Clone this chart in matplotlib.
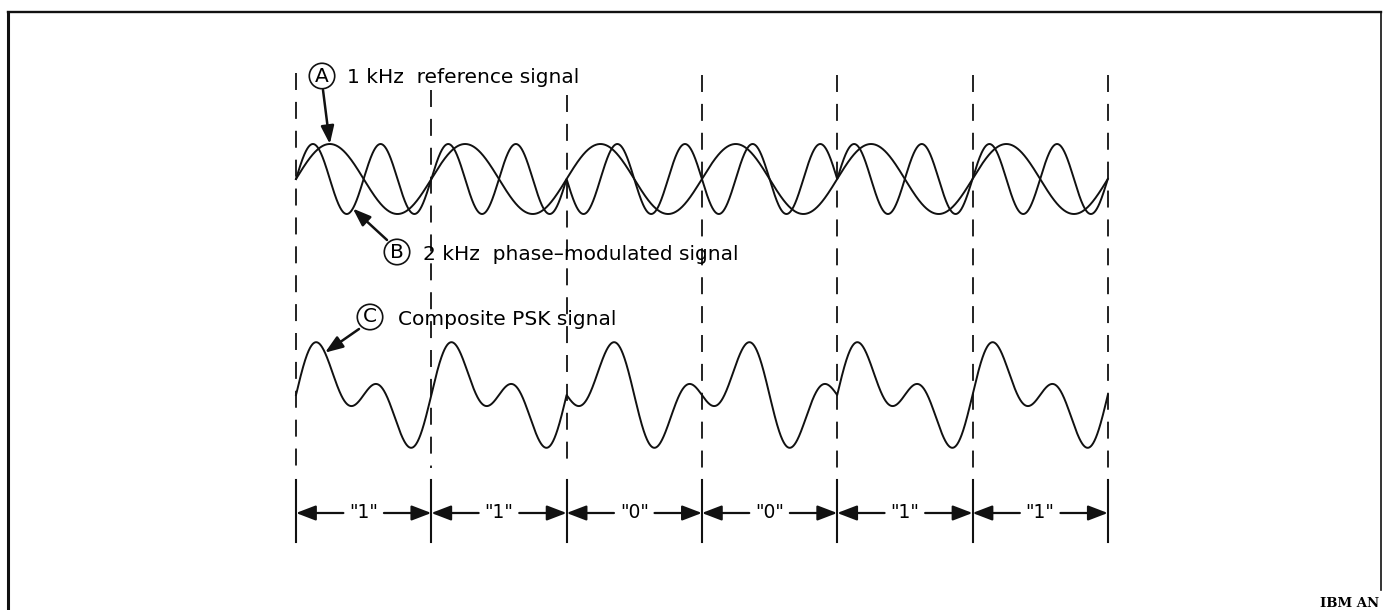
import numpy as np
import matplotlib.pyplot as plt

# data: bit sequence carried by the 2 kHz phase-modulated signal
bits = [1, 1, 0, 0, 1, 1]
bit_labels = ['"1"', '"1"', '"0"', '"0"', '"1"', '"1"']
ref_khz = 1.0
mod_khz = 2.0
label_a = '1 kHz  reference signal'
label_b = '2 kHz  phase\u2013modulated signal'
label_c = 'Composite PSK signal'
dash_tops = [73, 90, 95, 75, 75, 75, 75]

# layout (pixels of the 1383x610 picture)
X0 = 296.0          # left edge of first bit
PX_BIT = 135.3      # one bit = 1 ms
TOP_MID, TOP_AMP = 179, 35
BOT_MID, BOT_AMP = 395, 30

def px2t(x):
    return (x - X0) / PX_BIT

plt.rcParams['font.family'] = ['DejaVu Sans']

fig = plt.figure(figsize=(13.83, 6.10), dpi=100)
ax = fig.add_axes([0, 0, 1, 1])
ax.set_xlim(px2t(0), px2t(1383))
ax.set_ylim(610, 0)
ax.axis('off')

# waveforms
t = np.linspace(0, len(bits), 4000)
k = np.clip(np.floor(t).astype(int), 0, len(bits) - 1)
sign = np.where(np.array(bits)[k] == 1, 1.0, -1.0)

def ref(tt):
    return np.sin(2 * np.pi * ref_khz * tt)

def mod(tt, s):
    return s * np.sin(2 * np.pi * mod_khz * tt)

a = ref(t)
b = mod(t, sign)
c = a + b

lw = 1.4
ax.plot(t, TOP_MID - TOP_AMP * a, color='#111111', lw=lw)
ax.plot(t, TOP_MID - TOP_AMP * b, color='#111111', lw=lw)
ax.plot(t, BOT_MID - BOT_AMP * c, color='#111111', lw=lw)

# bit boundaries: dashed guides, then solid markers on the bit row
for i in range(len(bits) + 1):
    ax.plot([i, i], [dash_tops[i], 468], color='#111111', lw=1.3,
            linestyle=(0, (9.4, 6.6)))
    ax.plot([i, i], [480, 542], color='#111111', lw=1.5)

row_y = 513
gap = 0.15
for i, lab in enumerate(bit_labels):
    mid = i + 0.5
    ax.text(mid, row_y, lab, ha='center', va='center', fontsize=13.5)
    for start, end in [(mid - gap, i), (mid + gap, i + 1)]:
        ax.annotate('', xy=(end, row_y), xytext=(start, row_y),
                    arrowprops=dict(arrowstyle='-|>,head_length=0.6,head_width=0.23',
                                    mutation_scale=20, color='#111111', lw=1.6,
                                    shrinkA=0, shrinkB=0))

# circled labels with pointer arrows
fs = 14.5
circ = dict(boxstyle='circle,pad=0.16', fc='white', ec='#111111', lw=1.2)
arr = dict(arrowstyle='-|>,head_length=0.6,head_width=0.22', mutation_scale=18,
           color='#111111', lw=1.8, shrinkA=0, shrinkB=0)

ax.text(px2t(322), 76, 'A', ha='center', va='center', fontsize=fs, bbox=circ)
ax.text(px2t(347), 83, label_a, ha='left', va='baseline', fontsize=fs)
ta = 0.25
ax.annotate('', xy=(ta, TOP_MID - TOP_AMP * ref(ta)), xytext=(px2t(323), 90),
            arrowprops=arr)

ax.text(px2t(397), 252, 'B', ha='center', va='center', fontsize=fs, bbox=circ)
ax.text(px2t(423), 260, label_b, ha='left', va='baseline', fontsize=fs)
tb = 0.42
ax.annotate('', xy=(tb, TOP_MID - TOP_AMP * mod(tb, 1.0)), xytext=(px2t(387), 240),
            arrowprops=arr)

ax.text(px2t(370), 317, 'C', ha='center', va='center', fontsize=fs, bbox=circ)
ax.text(px2t(398), 325, label_c, ha='left', va='baseline', fontsize=fs)
tc = 0.214
ax.annotate('', xy=(tc, BOT_MID - BOT_AMP * (ref(tc) + mod(tc, 1.0))),
            xytext=(px2t(359), 329), arrowprops=arr)

# frame
ax.plot([px2t(8), px2t(8)], [610, 12], color='#111111', lw=2.2)
ax.plot([px2t(8), px2t(1381)], [12, 12], color='#111111', lw=1.7)
ax.plot([px2t(1381), px2t(1381)], [12, 590], color='#111111', lw=1.2)

ax.text(px2t(1379), 607, 'IBM AN', ha='right', va='baseline', fontsize=9.5,
        fontweight='bold', family='DejaVu Serif')

plt.savefig('out.png', dpi=100)
